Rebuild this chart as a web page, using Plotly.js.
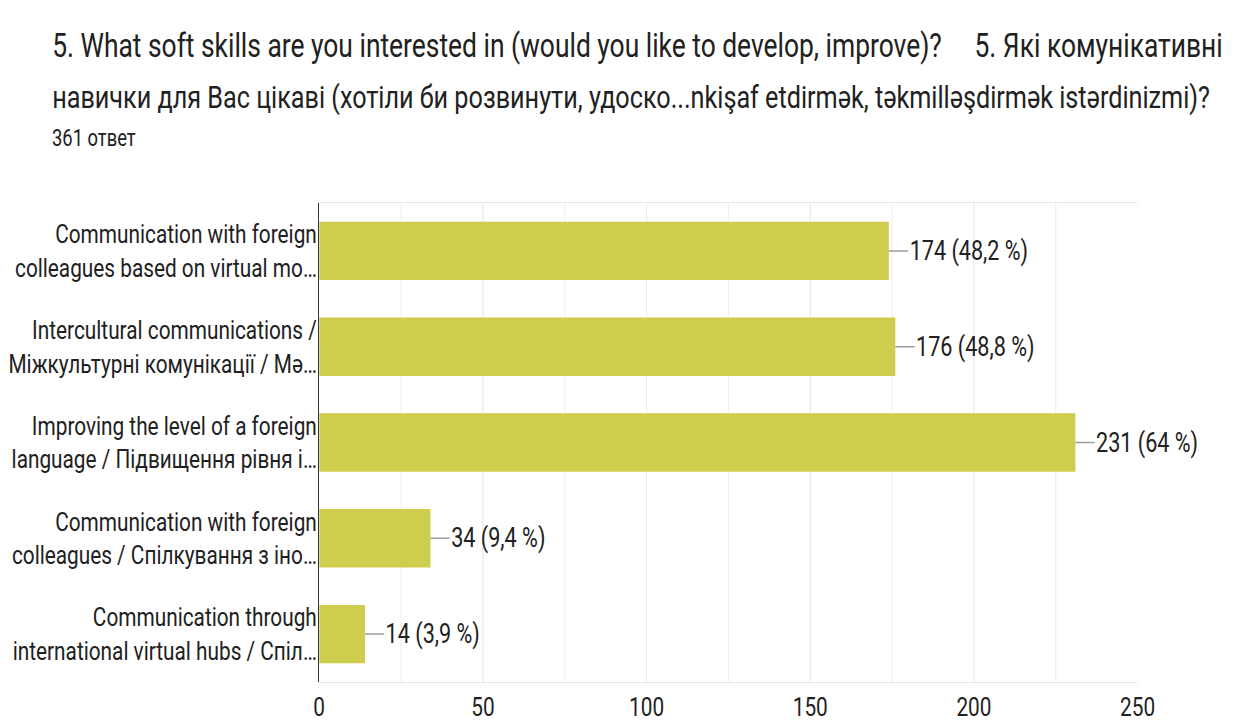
<!DOCTYPE html>
<html>
<head>
<meta charset="utf-8">
<script src="https://cdn.plot.ly/plotly-3.0.1.min.js"></script>
<style>
  html, body { margin: 0; padding: 0; background: #fff; }
  #wrap { width: 1238px; height: 722px; overflow: hidden; position: relative; }
  #chart { position: absolute; left: 0; top: 0; transform-origin: 0 0; }
</style>
</head>
<body>
<div id="wrap"><div id="chart"></div></div>
<script>
// ---- data ----
const categories = [
  "Communication with foreign<br>colleagues based on virtual mo…",
  "Intercultural communications /<br>Міжкультурні комунікації / Mə…",
  "Improving the level of a foreign<br>language / Підвищення рівня і…",
  "Communication with foreign<br>colleagues / Спілкування з іно…",
  "Communication through<br>international virtual hubs / Спіл…"
];
const counts = [174, 176, 231, 34, 14];
const percents = ["48,2 %", "48,8 %", "64 %", "9,4 %", "3,9 %"];
const titleLine1 = "5. What soft skills are you interested in (would you like to develop, improve)?&nbsp;&nbsp;&nbsp;&nbsp;&nbsp;5. Які комунікативні";
const titleLine2 = "навички для Вас цікаві (хотіли би розвинути, удоско...nkişaf etdirmək, təkmilləşdirmək istərdinizmi)?";
const subtitle = "361 ответ";
const xTicks = [0, 50, 100, 150, 200, 250];

// ---- layout (the reference text is narrow and tall: draw wider, then condense horizontally) ----
const SX = 0.8;                       // horizontal condensation factor
const W = 1238 / SX, H = 722;
const M = { l: 319 / SX, r: 101 / SX, t: 203, b: 40 };
const pw = W - M.l - M.r, ph = H - M.t - M.b;
const px = x => (x / SX - M.l) / pw;   // reference pixel -> paper
const py = y => 1 - (y - M.t) / ph;

const chartDiv = document.getElementById('chart');
chartDiv.style.width = W + 'px';
chartDiv.style.height = H + 'px';
chartDiv.style.transform = 'scale(' + SX + ',1)';

const FONT = 'Roboto, "Open Sans", sans-serif';
const TXT = '#212121';

const trace = {
  type: 'bar',
  orientation: 'h',
  y: categories,
  x: counts,
  marker: { color: '#cfcd4e' },
  hoverinfo: 'x+y'
};

const annotations = counts.map((c, i) => ({
  x: c, y: categories[i], xref: 'x', yref: 'y',
  text: c + ' (' + percents[i] + ')',
  showarrow: true, arrowhead: 0, arrowwidth: 1.5, arrowcolor: '#9e9e9e',
  ax: 24, ay: 0, xanchor: 'left', standoff: 0,
  font: { family: FONT, size: 27, color: TXT }
}));

annotations.push(
  { xref: 'paper', yref: 'paper', x: px(50), y: py(45), xanchor: 'left', yanchor: 'middle',
    text: titleLine1, showarrow: false, font: { family: FONT, size: 33, color: TXT } },
  { xref: 'paper', yref: 'paper', x: px(50), y: py(97), xanchor: 'left', yanchor: 'middle',
    text: titleLine2, showarrow: false, font: { family: FONT, size: 31.5, color: TXT } },
  { xref: 'paper', yref: 'paper', x: px(50), y: py(138), xanchor: 'left', yanchor: 'middle',
    text: subtitle, showarrow: false, font: { family: FONT, size: 23, color: TXT } }
);

const layout = {
  width: W, height: H,
  margin: M,
  paper_bgcolor: '#ffffff', plot_bgcolor: '#ffffff',
  showlegend: false,
  bargap: 0.39,
  font: { family: FONT, color: TXT },
  xaxis: {
    range: [0, 250],
    tickvals: xTicks,
    ticktext: xTicks.map(String),
    showgrid: true, gridcolor: '#ebebeb', gridwidth: 1,
    minor: { dtick: 25, showgrid: true, gridcolor: '#ebebeb', gridwidth: 1 },
    showline: true, linecolor: '#e3e3e3', linewidth: 1, mirror: true,
    zeroline: false,
    ticks: 'outside', ticklen: 2, tickcolor: 'rgba(0,0,0,0)',
    tickfont: { family: FONT, size: 26, color: TXT },
    fixedrange: true
  },
  yaxis: {
    autorange: 'reversed',
    showline: true, linecolor: '#333333', linewidth: 1.6,
    showgrid: false, zeroline: false,
    ticks: '', ticklabelstandoff: -4,
    tickfont: { family: FONT, size: 26, color: TXT },
    fixedrange: true
  },
  annotations: annotations
};

Plotly.newPlot('chart', [trace], layout, { displayModeBar: false, responsive: false });
</script>
</body>
</html>
